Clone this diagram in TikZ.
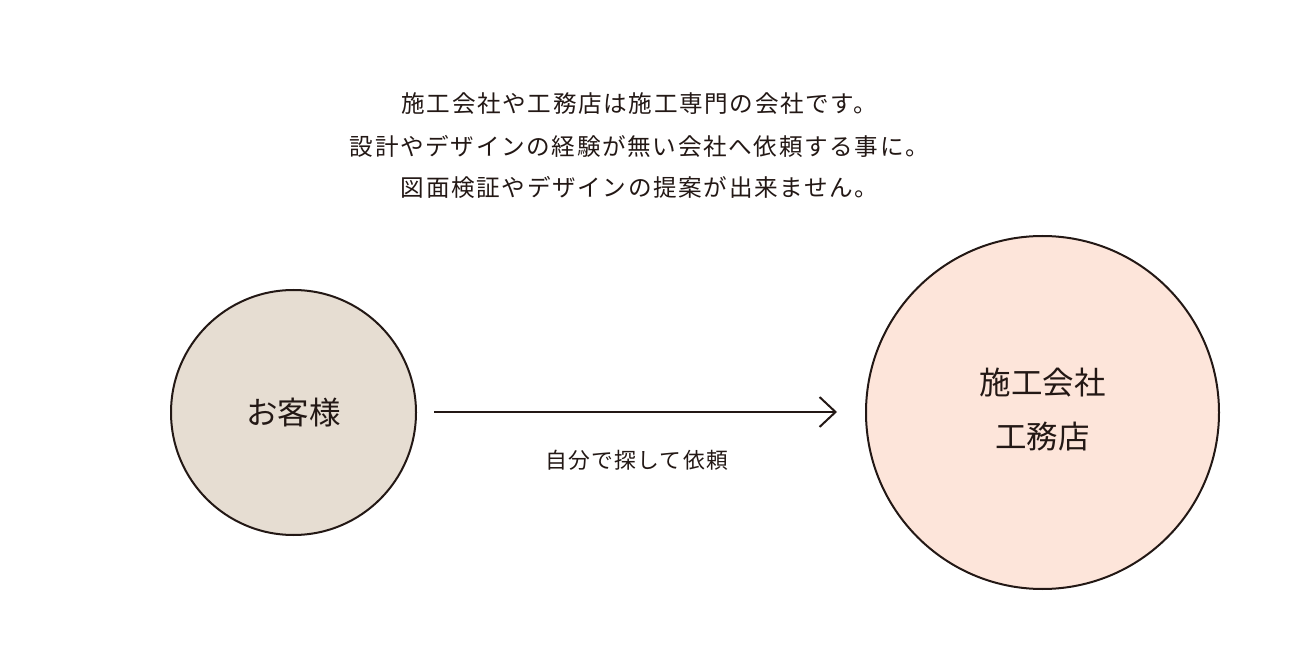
\documentclass[tikz,border=0pt]{standalone}
\usepackage{fontspec}
\setmainfont{Noto Sans CJK JP}
\newfontfamily\jpfont{Noto Sans CJK JP}
\usetikzlibrary{arrows.meta}
\definecolor{linec}{HTML}{231815}
\definecolor{leftfill}{HTML}{E6DDD2}
\definecolor{rightfill}{HTML}{FDE5DA}
\begin{document}
\begin{tikzpicture}[x=1pt,y=-1pt,
  every node/.style={inner sep=0pt, text=linec, font=\jpfont},
  circ/.style={circle, draw=linec, line width=2pt},
  captext/.style={font=\jpfont\fontsize{23.6}{26}\selectfont\addfontfeature{LetterSpace=7}},
  bigtext/.style={font=\jpfont\fontsize{31.5}{36}\selectfont},
  lbltext/.style={font=\jpfont\fontsize{21.8}{24}\selectfont\addfontfeature{LetterSpace=6}},
  conn/.style={draw=linec, line width=2pt, -{Straight Barb[length=16pt,width=30pt,line width=2pt]}}
]
\useasboundingbox (0,0) rectangle (1302,652);
\node[captext] (l1) at (639.5,104) {施工会社や工務店は施工専門の会社です。};
\node[captext] (l2) at (639.5,146) {設計やデザインの経験が無い会社へ依頼する事に。};
\node[captext] (l3) at (639.5,187) {図面検証やデザインの提案が出来ません。};
\node[circ, fill=leftfill, minimum size=245pt] (cust) at (293.5,412.5) {};
\node[bigtext] (custt) at (cust.center) {お客様};
\node[circ, fill=rightfill, minimum size=353pt] (cont) at (1042.5,412.5) {};
\node[bigtext] (contt1) at (1042.5,383) {施工会社};
\node[bigtext] (contt2) at (1042.5,437) {工務店};
\coordinate (as) at (434,412);
\coordinate (ae) at (837,412);
\draw[conn] (as) -- (ae);
\node[lbltext] (lbl) at (636.5,460) {自分で探して依頼};
\end{tikzpicture}
\end{document}
